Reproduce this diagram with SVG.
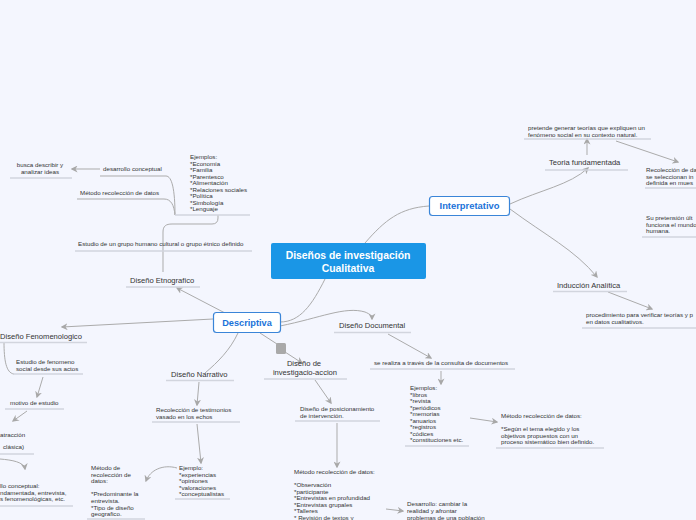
<svg xmlns="http://www.w3.org/2000/svg" width="696" height="520" viewBox="0 0 696 520">
<defs>
<marker id="ah" viewBox="0 0 10 10" refX="8" refY="5" markerWidth="7" markerHeight="7" orient="auto" markerUnits="userSpaceOnUse">
<path d="M0,0 L10,5 L0,10 L3,5 Z" fill="#a8a8a8"/>
</marker>
<style>
.c{fill:none;stroke:#ababab;stroke-width:1}
.u{fill:none;stroke:#d2d5de;stroke-width:1.5}
.s{font-family:"Liberation Sans",Arial,sans-serif;font-size:6.2px;fill:#333}
.l{font-family:"Liberation Sans",Arial,sans-serif;font-size:7.6px;fill:#333}
.b{font-family:"Liberation Sans",Arial,sans-serif;font-weight:bold;fill:#1a73d9}
.w{font-family:"Liberation Sans",Arial,sans-serif;font-size:10.4px;font-weight:bold;fill:#fff}
</style>
</defs>
<rect width="696" height="520" fill="#f4f6fe"/>
<g id="connectors">
<path class="c" d="M365,243 C385,220 400,208 429,206"/>
<path class="c" d="M325,279 C312,305 300,322 280,322"/>
<path class="c" d="M225,313 L177,288" marker-end="url(#ah)"/>
<path class="c" d="M213,319 L62,327" marker-end="url(#ah)"/>
<path class="c" d="M280,326 C320,318 345,306 365,312 C370,314 372,316 372,319" marker-end="url(#ah)"/>
<path class="c" d="M238,333 C230,350 218,362 205,373"/>
<path class="c" d="M260,333 L277,344"/>
<path class="c" d="M285,352 L302,363" marker-end="url(#ah)"/>
<path class="c" d="M163,272 L163,250"/>
<path class="c" d="M163,250 L163,232 C163,226 166,224 172,224 L212,224 C216,224 218,222 218,218 L218,215"/>
<path class="c" d="M100,176 L166,176 C172,176 175,190 175,215"/>
<path class="c" d="M77,199 L164,199 C171,199 174,205 175,215"/>
<path class="c" d="M100,169 L72,169" marker-end="url(#ah)"/>
<path class="c" d="M4,342 C4,360 6,373 14,374"/>
<path class="c" d="M43,377 L37,397" marker-end="url(#ah)"/>
<path class="c" d="M27,411 L13,421" marker-end="url(#ah)"/>
<path class="c" d="M0,459 C12,460 24,462 25,469" marker-end="url(#ah)"/>
<path class="c" d="M199,382 L197,405" marker-end="url(#ah)"/>
<path class="c" d="M197,424 L201,463" marker-end="url(#ah)"/>
<path class="c" d="M177,468 C163,464 150,470 146,481" marker-end="url(#ah)"/>
<path class="c" d="M388,334 L431,358" marker-end="url(#ah)"/>
<path class="c" d="M441,371 L441,384" marker-end="url(#ah)"/>
<path class="c" d="M470,418 L497,422" marker-end="url(#ah)"/>
<path class="c" d="M315,380 L331,403" marker-end="url(#ah)"/>
<path class="c" d="M337,423 L337,467" marker-end="url(#ah)"/>
<path class="c" d="M386,509 L403,511" marker-end="url(#ah)"/>
<path class="c" d="M510,204 C540,190 570,185 588,168" marker-end="url(#ah)"/>
<path class="c" d="M587,155 L587,139" marker-end="url(#ah)"/>
<path class="c" d="M616,141 L678,162" marker-end="url(#ah)"/>
<path class="c" d="M510,209 C545,235 575,250 597,277" marker-end="url(#ah)"/>
<path class="c" d="M608,292 L652,309" marker-end="url(#ah)"/>
</g>
<g id="central">
<rect x="271" y="243" width="155" height="36" rx="2" fill="#1a96e6"/>
<text class="w" x="348" y="259" text-anchor="middle">Diseños de investigación</text>
<text class="w" x="348" y="271.5" text-anchor="middle">Cualitativa</text>
</g>
<g id="descriptiva">
<rect x="213.5" y="312.5" width="67" height="20" rx="3" fill="#fff" stroke="#3a85d8" stroke-width="1.2"/>
<text class="b" x="247" y="325.5" text-anchor="middle" font-size="9.2">Descriptiva</text>
</g>
<g id="interpretativo">
<rect x="429.5" y="196.5" width="80" height="19" rx="3" fill="#fff" stroke="#3a85d8" stroke-width="1.2"/>
<text class="b" x="469.5" y="209.2" text-anchor="middle" font-size="9.4">Interpretativo</text>
</g>
<g id="etnografico">
<text class="l" x="130" y="283">Diseño Etnografico</text>
<line class="u" x1="126" y1="287" x2="200" y2="287"/>
</g>
<g id="estudio-grupo">
<text class="s" x="78" y="246">Estudio de un grupo humano cultural o grupo étnico definido</text>
<line class="u" x1="75" y1="251" x2="252" y2="251"/>
</g>
<g id="ejemplos-etno">
<text class="s" x="190" y="159"><tspan x="190">Ejemplos:</tspan><tspan x="190" dy="6.5">*Economía</tspan><tspan x="190" dy="6.5">*Familia</tspan><tspan x="190" dy="6.5">*Parentesco</tspan><tspan x="190" dy="6.5">*Alimentación</tspan><tspan x="190" dy="6.5">*Relaciones sociales</tspan><tspan x="190" dy="6.5">*Política</tspan><tspan x="190" dy="6.5">*Simbología</tspan><tspan x="190" dy="6.5">*Lenguaje</tspan></text>
<line class="u" x1="175" y1="215" x2="250" y2="215"/>
</g>
<g id="desarrollo-conceptual">
<text class="s" x="103" y="171">desarrollo conceptual</text>
</g>
<g id="metodo-etno">
<text class="s" x="80" y="195">Método recolección de datos</text>
</g>
<g id="busca">
<text class="s" x="40" y="167" text-anchor="middle"><tspan x="40">busca describir y</tspan><tspan x="40" dy="6.8">analizar ideas</tspan></text>
<line class="u" x1="10" y1="178" x2="72" y2="178"/>
</g>
<g id="fenomenologico">
<text class="l" x="0" y="339">Diseño Fenomenologico</text>
<line class="u" x1="0" y1="342.5" x2="87" y2="342.5"/>
</g>
<g id="estudio-fenomeno">
<text class="s" x="16" y="364"><tspan x="16">Estudio de fenomeno</tspan><tspan x="16" dy="7">social desde sus actos</tspan></text>
<line class="u" x1="13" y1="374" x2="83" y2="374"/>
</g>
<g id="motivo">
<text class="s" x="10" y="405">motivo de estudio</text>
<line class="u" x1="5" y1="409" x2="64" y2="409"/>
</g>
<g id="atraccion">
<text class="s" x="0" y="437">atracción</text>
<text class="s" x="3" y="449">clásica)</text>
<line class="u" x1="0" y1="454" x2="34" y2="454"/>
</g>
<g id="desarrollo-fenom">
<text class="s" x="0" y="488"><tspan x="0">llo conceptual:</tspan><tspan x="0" dy="6.7">ndamentada, entrevista,</tspan><tspan x="0" dy="6.7">s fenomenológicas, etc.</tspan></text>
<line class="u" x1="0" y1="506" x2="73" y2="506"/>
</g>
<g id="narrativo">
<text class="l" x="171" y="377">Diseño Narrativo</text>
<line class="u" x1="166" y1="380.5" x2="234" y2="380.5"/>
</g>
<g id="testimonios">
<text class="s" x="156" y="412"><tspan x="156">Recolección de testimonios</tspan><tspan x="156" dy="6.7">vasado en los echos</tspan></text>
<line class="u" x1="152" y1="422" x2="240" y2="422"/>
</g>
<g id="ejemplo-narr">
<text class="s" x="179" y="470"><tspan x="179">Ejemplo:</tspan><tspan x="179" dy="6.6">*experiencias</tspan><tspan x="179" dy="6.6">*opiniones</tspan><tspan x="179" dy="6.6">*valoraciones</tspan><tspan x="179" dy="6.6">*conceptualistas</tspan></text>
<line class="u" x1="175" y1="499" x2="230" y2="499"/>
</g>
<g id="metodo-narr">
<text class="s" x="91" y="470"><tspan x="91">Método de</tspan><tspan x="91" dy="6.6">recolección de</tspan><tspan x="91" dy="6.6">datos:</tspan><tspan x="91" dy="13.2">*Predominante la</tspan><tspan x="91" dy="6.6">entrevista.</tspan><tspan x="91" dy="6.6">*Tipo de diseño</tspan><tspan x="91" dy="6.6">geografico.</tspan></text>
<line class="u" x1="87" y1="519" x2="145" y2="519"/>
</g>
<g id="documental">
<text class="l" x="339" y="328">Diseño Documental</text>
<line class="u" x1="334" y1="332.5" x2="411" y2="332.5"/>
</g>
<g id="consulta">
<text class="s" x="374" y="365">se realiza a través de la consulta de documentos</text>
<line class="u" x1="370" y1="369" x2="515" y2="369"/>
</g>
<g id="ejemplos-doc">
<text class="s" x="410" y="390"><tspan x="410">Ejemplos:</tspan><tspan x="410" dy="6.5">*libros</tspan><tspan x="410" dy="6.5">*revista</tspan><tspan x="410" dy="6.5">*periódicos</tspan><tspan x="410" dy="6.5">*memorias</tspan><tspan x="410" dy="6.5">*anuarios</tspan><tspan x="410" dy="6.5">*registros</tspan><tspan x="410" dy="6.5">*códices</tspan><tspan x="410" dy="6.5">*constituciones etc.</tspan></text>
<line class="u" x1="405" y1="446" x2="469" y2="446"/>
</g>
<g id="metodo-doc">
<text class="s" x="501" y="418"><tspan x="501">Método recolección de datos:</tspan><tspan x="501" dy="13">*Según el tema elegido y los</tspan><tspan x="501" dy="6.6">objetivos propuestos con un</tspan><tspan x="501" dy="6.6">proceso sistemático bien definido.</tspan></text>
<line class="u" x1="496" y1="448" x2="604" y2="448"/>
</g>
<g id="accion">
<rect x="276" y="343" width="10" height="11" rx="1.5" fill="#a9a9a9"/>
<text class="l" x="304" y="366" text-anchor="middle">Diseño de</text>
<text class="l" x="305" y="375" text-anchor="middle">investigacio-accion</text>
<line class="u" x1="264" y1="379" x2="347" y2="379"/>
</g>
<g id="posicionamiento">
<text class="s" x="300" y="411"><tspan x="300">Diseño de posicionamiento</tspan><tspan x="300" dy="7">de intervención.</tspan></text>
<line class="u" x1="295" y1="421" x2="380" y2="421"/>
</g>
<g id="metodo-accion">
<text class="s" x="294" y="474"><tspan x="294">Método recolección de datos:</tspan><tspan x="294" dy="13">*Observación</tspan><tspan x="294" dy="6.6">*participante</tspan><tspan x="294" dy="6.6">*Entrevistas en profundidad</tspan><tspan x="294" dy="6.6">*Entrevistas grupales</tspan><tspan x="294" dy="6.6">*Talleres</tspan><tspan x="294" dy="6.6">* Revisión de textos y</tspan></text>
</g>
<g id="desarrollo-accion">
<text class="s" x="407" y="506"><tspan x="407">Desarrollo: cambiar la</tspan><tspan x="407" dy="6.8">realidad y afrontar</tspan><tspan x="407" dy="6.8">problemas de una población</tspan></text>
</g>
<g id="teoria">
<text class="l" x="549" y="165">Teoria fundamentada</text>
<line class="u" x1="545" y1="170" x2="628" y2="170"/>
</g>
<g id="pretende">
<text class="s" x="528" y="130"><tspan x="528">pretende generar teorías que expliquen un</tspan><tspan x="528" dy="6.6">fenómeno social en su contexto natural.</tspan></text>
<line class="u" x1="524" y1="139" x2="651" y2="139"/>
</g>
<g id="recoleccion-teoria">
<text class="s" x="646" y="172" font-size="5.5"><tspan x="646">Recolección de da</tspan><tspan x="646" dy="6.6">se seleccionan in</tspan><tspan x="646" dy="6.6">definida en mues</tspan></text>
<line class="u" x1="645" y1="188" x2="696" y2="188"/>
</g>
<g id="pretension">
<text class="s" x="646" y="220"><tspan x="646">Su pretensión últ</tspan><tspan x="646" dy="6.6">funciona el mundo</tspan><tspan x="646" dy="6.6">humana.</tspan></text>
<line class="u" x1="642" y1="237" x2="696" y2="237"/>
</g>
<g id="induccion">
<text class="l" x="557" y="288">Inducción Analítica</text>
<line class="u" x1="553" y1="291.5" x2="627" y2="291.5"/>
</g>
<g id="procedimiento">
<text class="s" x="586" y="317"><tspan x="586">procedimiento para verificar teorías y p</tspan><tspan x="586" dy="6.8">en datos cualitativos.</tspan></text>
<line class="u" x1="582" y1="328" x2="696" y2="328"/>
</g>
</svg>
